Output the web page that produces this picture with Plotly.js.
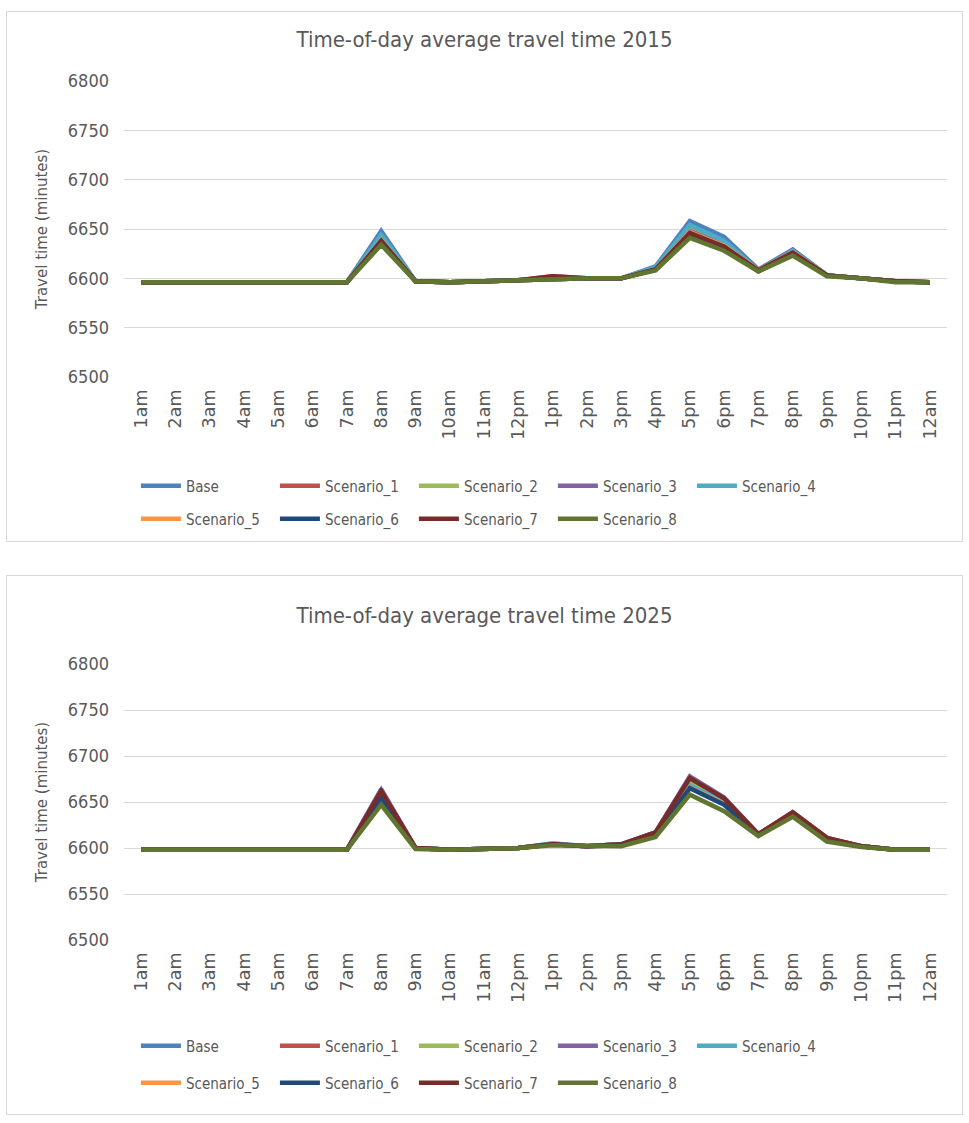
<!DOCTYPE html>
<html>
<head>
<meta charset="utf-8">
<script src="https://cdn.plot.ly/plotly-3.0.1.min.js"></script>
<style>
  html, body { margin: 0; padding: 0; background: #ffffff; }
  .box { position: absolute; left: 6px; width: 955px; border: 1px solid #d9d9d9; background: #fff; }
  #c1 { top: 11px; height: 529px; }
  #c2 { top: 575px; height: 538px; }
</style>
</head>
<body>
<div id="c1" class="box"></div>
<div id="c2" class="box"></div>
<script>
const hours = ["1am","2am","3am","4am","5am","6am","7am","8am","9am","10am","11am","12pm",
               "1pm","2pm","3pm","4pm","5pm","6pm","7pm","8pm","9pm","10pm","11pm","12am"];
const seriesNames = ["Base","Scenario_1","Scenario_2","Scenario_3","Scenario_4",
                     "Scenario_5","Scenario_6","Scenario_7","Scenario_8"];
const seriesColors = ["#4F81BD","#C0504D","#9BBB59","#8064A2","#4BACC6",
                      "#F79646","#1F497D","#772C2A","#5F7530"];
const yTicks = [6500, 6550, 6600, 6650, 6700, 6750, 6800];

// 2015 values (minutes)
const base2015 = [6596,6596,6596,6596,6596,6596,6596,6648,6597,6596,6597,6598,6600,6600,6600,6612,6658,6642,6609,6629,6603,6600,6597,6596];
const s1_2015  = [6596,6596,6596,6596,6596,6596,6596,6641,6597,6596,6597,6598,6602,6600,6600,6610,6650,6635,6608,6627,6603,6600,6597,6596];
const s2_2015  = [6596,6596,6596,6596,6596,6596,6596,6642,6597,6596,6597,6598,6600,6600,6600,6610,6652,6636,6608,6628,6603,6600,6597,6596];
const s3_2015  = [6596,6596,6596,6596,6596,6596,6596,6640,6597,6596,6597,6598,6600,6600,6600,6610,6648,6634,6608,6629,6603,6600,6597,6596];
const s4_2015  = [6596,6596,6596,6596,6596,6596,6596,6644,6597,6596,6597,6598,6600,6600,6600,6611,6654,6638,6608,6628,6603,6600,6597,6596];
const s5_2015  = [6596,6596,6596,6596,6596,6596,6596,6639,6597,6596,6597,6598,6600,6600,6600,6609,6647,6633,6608,6626,6603,6600,6597,6596];
const s6_2015  = [6596,6596,6596,6596,6596,6596,6596,6638,6597,6596,6597,6598,6600,6600,6600,6609,6645,6632,6607,6625,6603,6600,6597,6596];
const s7_2015  = [6596,6596,6596,6596,6596,6596,6596,6637,6597,6596,6597,6598,6602,6600,6600,6609,6646,6632,6608,6626,6603,6600,6597,6596];
const s8_2015  = [6596,6596,6596,6596,6596,6596,6596,6634,6597,6596,6597,6598,6600,6600,6600,6608,6641,6628,6607,6623,6602,6600,6596,6596];

// 2025 values (minutes)
const base2025 = [6598,6598,6598,6598,6598,6598,6598,6663,6600,6598,6599,6600,6605,6602,6604,6617,6674,6653,6615,6637,6610,6602,6598,6598];
const s1_2025  = [6598,6598,6598,6598,6598,6598,6598,6660,6600,6598,6599,6600,6604,6602,6604,6616,6677,6654,6615,6639,6611,6602,6598,6598];
const s2_2025  = [6598,6598,6598,6598,6598,6598,6598,6658,6600,6598,6599,6600,6604,6602,6603,6615,6670,6651,6614,6636,6609,6602,6598,6598];
const s3_2025  = [6598,6598,6598,6598,6598,6598,6598,6664,6600,6598,6599,6600,6604,6602,6604,6617,6678,6655,6615,6638,6610,6602,6598,6598];
const s4_2025  = [6598,6598,6598,6598,6598,6598,6598,6657,6600,6598,6599,6600,6605,6602,6604,6616,6668,6650,6614,6636,6609,6602,6598,6598];
const s5_2025  = [6598,6598,6598,6598,6598,6598,6598,6655,6600,6598,6599,6600,6604,6602,6603,6614,6666,6648,6614,6635,6609,6602,6598,6598];
const s6_2025  = [6598,6598,6598,6598,6598,6598,6598,6654,6600,6598,6599,6600,6604,6602,6603,6614,6665,6647,6614,6635,6608,6602,6598,6598];
const s7_2025  = [6598,6598,6598,6598,6598,6598,6598,6662,6600,6598,6599,6600,6604,6602,6604,6617,6676,6654,6615,6639,6611,6602,6598,6598];
const s8_2025  = [6598,6598,6598,6598,6598,6598,6598,6647,6599,6598,6599,6600,6603,6602,6602,6612,6658,6640,6613,6634,6607,6601,6598,6598];

const data2015 = [base2015,s1_2015,s2_2015,s3_2015,s4_2015,s5_2015,s6_2015,s7_2015,s8_2015];
const data2025 = [base2025,s1_2025,s2_2025,s3_2025,s4_2025,s5_2025,s6_2025,s7_2025,s8_2025];

const TXT = "#595959";
const NARROW = "'DejaVu Sans Condensed', 'Liberation Sans', Arial, sans-serif";
const WIDE = "'DejaVu Sans', Verdana, sans-serif";

function makeChart(id, title, values, dims) {
  const traces = values.map((v, i) => ({
    type: "scatter", mode: "lines",
    x: hours, y: v, name: seriesNames[i],
    line: { color: seriesColors[i], width: 4.5 },
    legend: i < 5 ? "legend" : "legend2"
  }));
  const legCommon = {
    orientation: "h", xref: "container", yref: "container",
    x: dims.legX, xanchor: "left", yanchor: "middle",
    entrywidth: 84, entrywidthmode: "pixels",
    itemwidth: 40, bgcolor: "rgba(0,0,0,0)",
    font: { family: NARROW, size: 15, color: TXT }
  };
  const layout = {
    width: 955, height: dims.h,
    margin: { l: 117, r: 15, t: dims.t, b: dims.b },
    paper_bgcolor: "#ffffff", plot_bgcolor: "#ffffff",
    title: { text: title, x: 0.5, xanchor: "center", y: dims.titleY, yref: "container", yanchor: "middle",
             font: { family: NARROW, size: 22, color: TXT } },
    xaxis: {
      type: "category", range: [-0.5, 23.5], tickangle: -90, showgrid: false, zeroline: false, showline: false,
      ticks: "", ticklabelstandoff: 8,
      tickfont: { family: WIDE, size: 17.5, color: TXT }
    },
    yaxis: {
      range: [6500, 6800], tickvals: yTicks, showgrid: true, gridcolor: "#d9d9d9", gridwidth: 1,
      zeroline: false, showline: false, ticks: "", ticklabelstandoff: 14,
      tickfont: { family: NARROW, size: 18, color: TXT },
      title: { text: "Travel time (minutes)", standoff: 16, font: { family: WIDE, size: 15, color: TXT } }
    },
    legend: Object.assign({}, legCommon, { y: dims.leg1 }),
    legend2: Object.assign({}, legCommon, { y: dims.leg2 }),
    showlegend: true
  };
  Plotly.newPlot(id, traces, layout, { displayModeBar: false, staticPlot: true });
}

makeChart("c1", "Time-of-day average travel time 2015", data2015,
  { h: 529, t: 69, b: 164, titleY: 1 - 27/529, legX: 0.135, leg1: 1 - 474/529, leg2: 1 - 507/529 });
makeChart("c2", "Time-of-day average travel time 2025", data2025,
  { h: 538, t: 88, b: 174, titleY: 1 - 39/538, legX: 0.135, leg1: 1 - 470/538, leg2: 1 - 507/538 });
</script>
</body>
</html>
